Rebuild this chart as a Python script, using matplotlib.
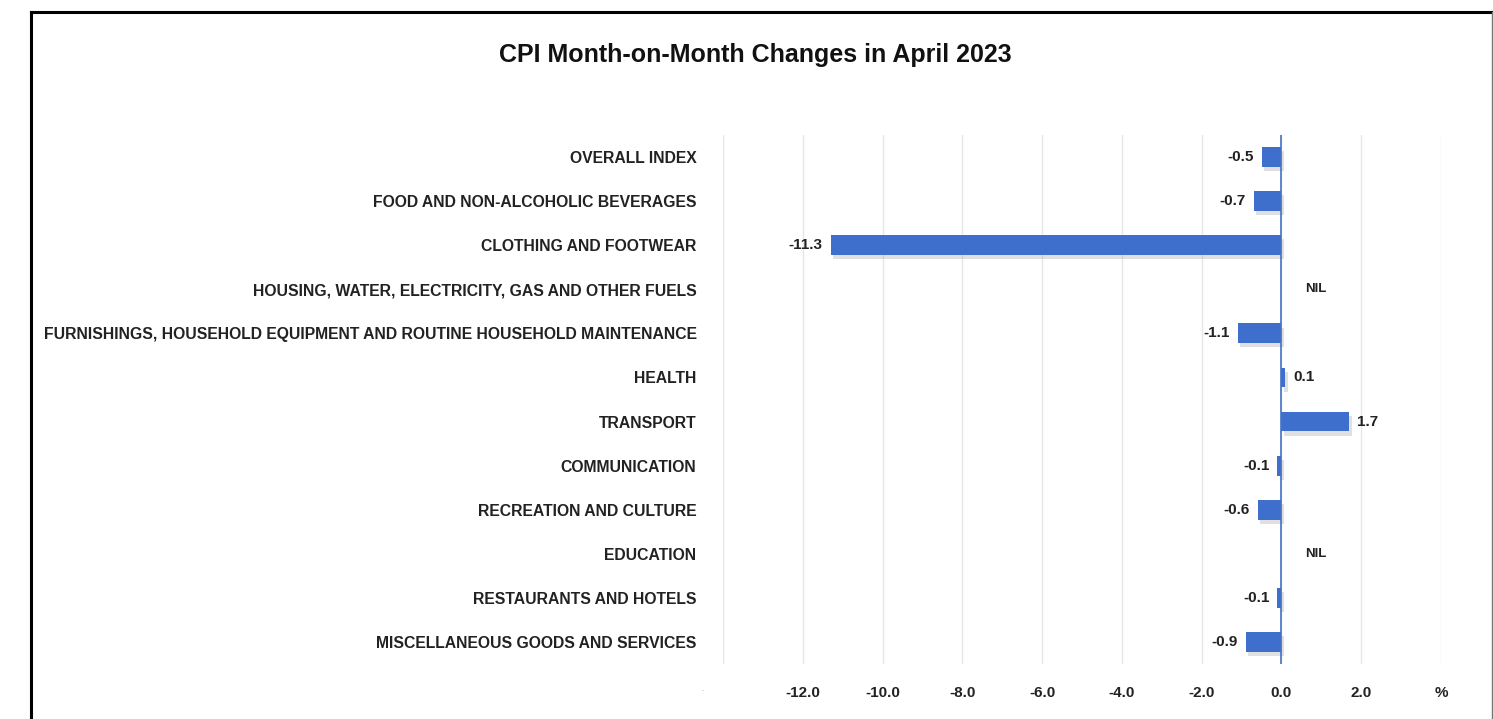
import matplotlib
matplotlib.use("Agg")
import matplotlib.pyplot as plt
import matplotlib.patheffects as pe
from matplotlib.lines import Line2D

categories = [
    "OVERALL INDEX",
    "FOOD AND NON-ALCOHOLIC BEVERAGES",
    "CLOTHING AND FOOTWEAR",
    "HOUSING, WATER, ELECTRICITY, GAS AND OTHER FUELS",
    "FURNISHINGS, HOUSEHOLD EQUIPMENT AND ROUTINE HOUSEHOLD MAINTENANCE",
    "HEALTH",
    "TRANSPORT",
    "COMMUNICATION",
    "RECREATION AND CULTURE",
    "EDUCATION",
    "RESTAURANTS AND HOTELS",
    "MISCELLANEOUS GOODS AND SERVICES",
]
values = [-0.5, -0.7, -11.3, None, -1.1, 0.1, 1.7, -0.1, -0.6, None, -0.1, -0.9]
tick_values = [-14, -12, -10, -8, -6, -4, -2, 0, 2, 4]
tick_labels = ["", "-12.0", "-10.0", "-8.0", "-6.0", "-4.0", "-2.0", "0.0", "2.0", "%"]

FONT = ["Liberation Sans", "DejaVu Sans"]
plt.rcParams["font.family"] = FONT

fig = plt.figure(figsize=(14.93, 7.19), dpi=100)
ax = fig.add_axes([723 / 1493, 1 - 664 / 719, (1441 - 723) / 1493, (664 - 135) / 719])

ypos = list(range(len(categories)))
bar_color = "#3f6fcc"
for y, v in zip(ypos, values):
    if v is None:
        ax.text(0.6, y, "NIL", ha="left", va="center", fontsize=9.5, fontweight="bold", color="#222222")
        continue
    b = ax.barh(y, v, height=0.45, color=bar_color, zorder=3)
    for p in b.patches:
        p.set_path_effects([pe.SimplePatchShadow(offset=(2, -3), shadow_rgbFace="#9a9a9a", alpha=0.3), pe.Normal()])
    if v < 0:
        ax.text(v - 0.2, y, f"{v:.1f}", ha="right", va="center", fontsize=11, fontweight="bold", color="#222222")
    else:
        ax.text(v + 0.2, y, f"{v:.1f}", ha="left", va="center", fontsize=11, fontweight="bold", color="#222222")

ax.set_xlim(-14, 4)
ax.set_ylim(len(categories) - 0.5, -0.5)
ax.set_xticks(tick_values)
ax.set_xticklabels(tick_labels, fontsize=11, fontweight="bold", color="#222222")
ax.set_yticks(ypos)
ax.set_yticklabels(categories, fontsize=11.3, fontweight="bold", color="#222222")
ax.tick_params(axis="both", length=0)
ax.tick_params(axis="x", pad=16)
ax.tick_params(axis="y", pad=19)
ax.grid(axis="x", color="#e6e6e6", linewidth=1, zorder=0)
for s in ax.spines.values():
    s.set_visible(False)
ax.axvline(0, color="#4472c4", linewidth=1.2, zorder=4)
ax.text(-14.5, len(categories) - 0.5 + 0.62, "·", ha="center", va="center", fontsize=9, color="#bbbbbb", clip_on=False)

fig.text(755 / 1493, 1 - 55 / 719, "CPI Month-on-Month Changes in April 2023", ha="center", va="center",
         fontsize=18, fontweight="bold", color="#111111")

# frame
fig.add_artist(Line2D([31 / 1493, 31 / 1493], [0, 1 - 12 / 719], transform=fig.transFigure, color="black", linewidth=2.2))
fig.add_artist(Line2D([31 / 1493, 1492 / 1493], [1 - 12 / 719, 1 - 12 / 719], transform=fig.transFigure, color="black", linewidth=2.2))
fig.add_artist(Line2D([1491.5 / 1493, 1491.5 / 1493], [0, 1 - 12 / 719], transform=fig.transFigure, color="#777777", linewidth=1))

fig.savefig("out.png", dpi=100)
